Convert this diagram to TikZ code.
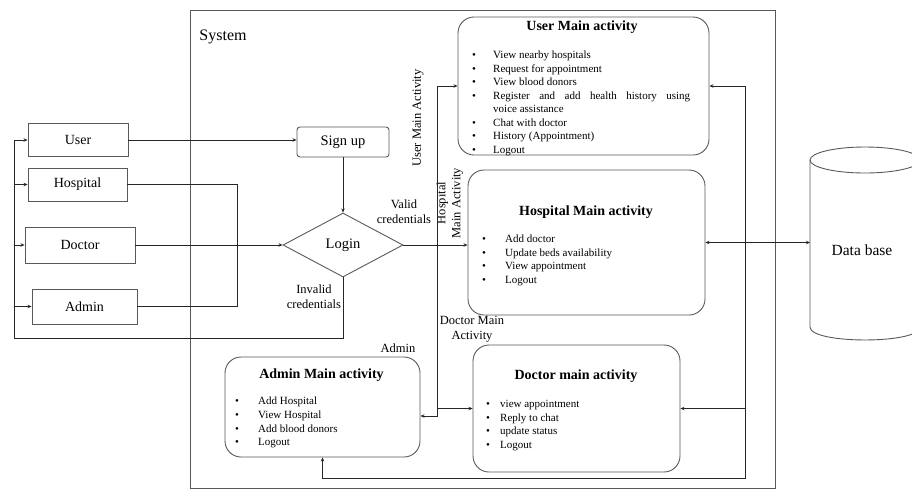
\documentclass[tikz,border=0pt]{standalone}
\usepackage{fontspec}
\setmainfont{Liberation Serif}
\usetikzlibrary{shapes.geometric,arrows.meta}
\newcommand{\bl}{{\fontsize{11}{11}\selectfont\textbullet}}
\begin{document}
\begin{tikzpicture}[x=1pt,y=-1pt,
  line/.style={draw=black!85, line width=0.8pt},
  arr/.style={line, -{Stealth[length=4pt,width=3.5pt]}},
  biarr/.style={line, {Stealth[length=4pt,width=3.5pt]}-{Stealth[length=4pt,width=3.5pt]}},
  frame/.style={draw=black!65, line width=0.9pt},
  actor/.style={frame, minimum width=#1, inner sep=0, font=\fontsize{14}{16}\selectfont},
  mainbox/.style={frame, rounded corners=16pt, inner sep=0},
  ttl/.style={anchor=base, inner sep=0, font=\fontsize{14}{16}\selectfont\bfseries},
  lst/.style={anchor=base west, inner sep=0, font=\fontsize{11}{#1}\selectfont},
  lbl/.style={inner sep=0, align=center, font=\fontsize{12.5}{15}\selectfont}
]
\useasboundingbox (0,0) rectangle (912,499);

% system frame
\draw[frame] (190,10) rectangle (775,488);
\node[inner sep=0, font=\fontsize{16}{18}\selectfont] (system) at (223,37) {System};

% actors
\node[actor=100, minimum height=33] (user) at (78,140) {User};
\node[actor=99, minimum height=33] (hospital) at (77.5,184.5) {Hospital};
\node[actor=110, minimum height=36] (doctor) at (80,245) {Doctor};
\node[actor=105, minimum height=35] (admin) at (84.5,306.5) {Admin};

% sign up and login
\node[frame, rounded corners=3pt, minimum width=92, minimum height=30, inner sep=0,
      font=\fontsize{14.5}{16}\selectfont] (signup) at (343,142) {Sign up};
\node[frame, diamond, minimum width=120, minimum height=64, inner sep=0,
      font=\fontsize{14.5}{16}\selectfont] (login) at (343,245) {Login};

% main activity boxes
\node[mainbox, minimum width=251, minimum height=138] (usermain) at (583.5,86) {};
\node[mainbox, minimum width=237, minimum height=145] (hospmain) at (586.5,242.5) {};
\node[mainbox, minimum width=207, minimum height=127] (docmain) at (576.5,408.5) {};
\node[mainbox, minimum width=195, minimum height=100] (adminmain) at (322.5,407) {};

\node[ttl] (usert) at (582,30) {User Main activity};
\node[lst=13.5] (userl) at (472,58.5) {\begin{tabular}[t]{@{}p{21pt}@{}l@{}}
\bl & View nearby hospitals\\
\bl & Request for appointment\\
\bl & View blood donors\\
\bl & \makebox[197pt][s]{Register and add health history using}\\
    & voice assistance\\
\bl & Chat with doctor\\
\bl & History (Appointment)\\
\bl & Logout
\end{tabular}};

\node[ttl] (hospt) at (586,215) {Hospital Main activity};
\node[lst=13.7] (hospl) at (482,242.5) {\begin{tabular}[t]{@{}p{23pt}@{}l@{}}
\bl & Add doctor\\
\bl & Update beds availability\\
\bl & View appointment\\
\bl & Logout
\end{tabular}};

\node[ttl] (doct) at (576,379) {Doctor main activity};
\node[lst=13.6] (docl) at (486,407.5) {\begin{tabular}[t]{@{}p{14pt}@{}l@{}}
\bl & view appointment\\
\bl & Reply to chat\\
\bl & update status\\
\bl & Logout
\end{tabular}};

\node[ttl] (admint) at (321.5,378) {Admin Main activity};
\node[lst=13.8] (adminl) at (235,404.5) {\begin{tabular}[t]{@{}p{23pt}@{}l@{}}
\bl & Add Hospital\\
\bl & View Hospital\\
\bl & Add blood donors\\
\bl & Logout
\end{tabular}};

% database cylinder
\draw[frame] (865,160) ellipse [x radius=55, y radius=13];
\draw[frame] (810,160) -- (810,327) .. controls (810,344.3) and (920,344.3) .. (920,327) -- (920,160);
\node[inner sep=0, font=\fontsize{15.5}{17}\selectfont] (db) at (862,250) {Data base};
\coordinate (dbw) at (810,242.5);

% labels
\node[lbl] (valid) at (404,212) {Valid\\credentials};
\node[lbl] (invalid) at (314,297) {Invalid\\credentials};
\node[lbl, rotate=90] (umalbl) at (418,118) {User Main Activity};
\node[lbl, rotate=90] (hmalbl) at (450,203) {Hospital\\Main Activity};
\node[lbl] (dmalbl) at (472,329) {Doctor Main\\Activity};
\node[lbl] (adlbl) at (398,348) {Admin};

% coordinates
\coordinate (j1) at (237,245);
\coordinate (j2) at (437,245);
\coordinate (j3) at (437,416);
\coordinate (lb) at (14,338);
\coordinate (rv) at (745,86);
\coordinate (rb) at (745,478);

% left connectors
\draw[arr] (user.east) -- (user.east -| signup.west);
\draw[arr] (signup.south) -- (login.north);
\draw[line] (hospital.east) -| (j1);
\draw[line] (admin.east) -| (j1);
\draw[arr] (doctor.east) -- (login.west);
\draw[line] (login.south) |- (lb);
\draw[arr] (lb) |- (user.west);
\draw[arr] (lb) |- (hospital.west);
\draw[arr] (lb) |- (doctor.west);
\draw[arr] (lb) |- (admin.west);

% middle connectors
\draw[line] (login.east) -- (j2);
\draw[arr] (j2) |- (usermain.west);
\draw[arr] (j2) -- (j2 -| hospmain.west);
\draw[arr] (j2) |- (docmain.west);
\draw[arr] (j2) -- (j3) -- (j3 -| adminmain.east);

% right connectors
\draw[biarr] (usermain.east) -- (rv) -- (rb) -| (adminmain.south);
\draw[arr] (rb |- docmain.east) -- (docmain.east);
\draw[biarr] (hospmain.east) -- (dbw);
\end{tikzpicture}
\end{document}
